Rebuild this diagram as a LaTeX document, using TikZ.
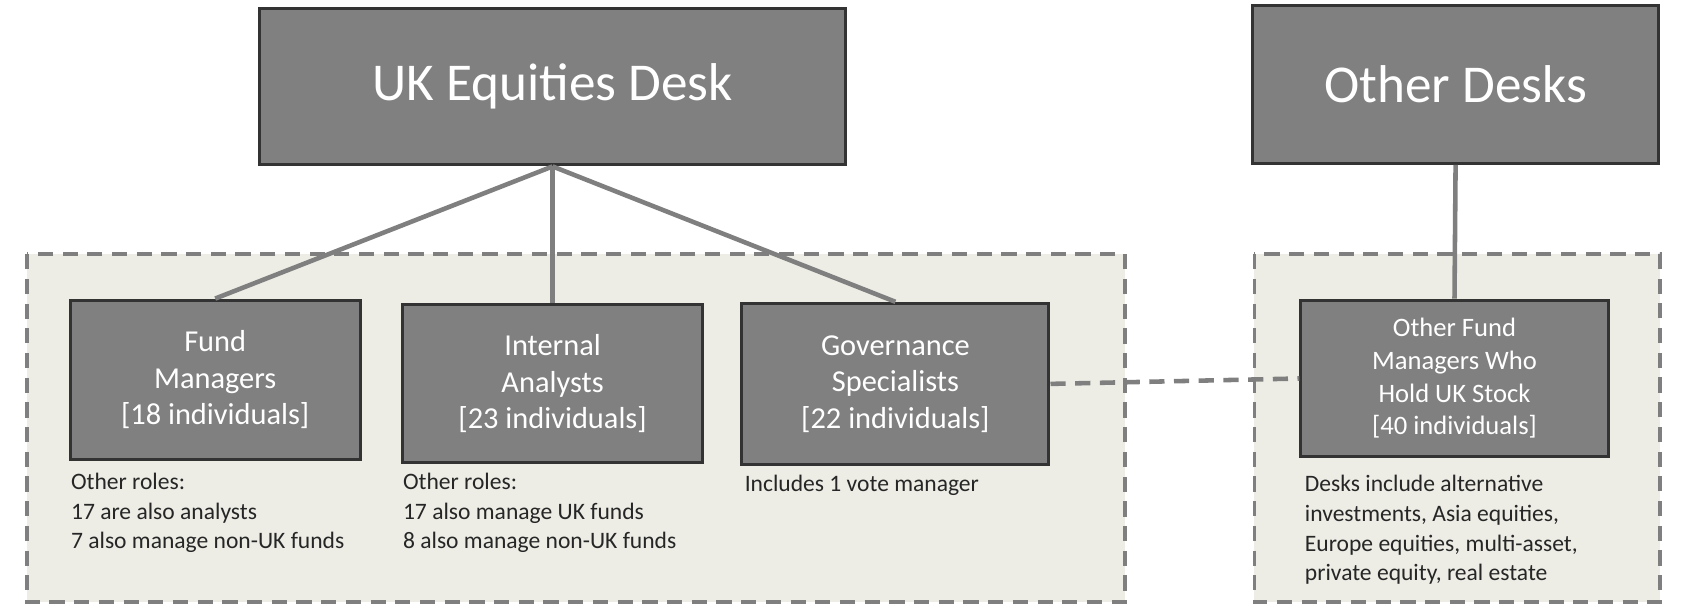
\documentclass[tikz,border=0pt]{standalone}
\usepackage{fontspec}
\setmainfont{Carlito}
\usetikzlibrary{positioning}
\definecolor{boxgray}{HTML}{808080}
\definecolor{edgegray}{HTML}{333333}
\definecolor{linegray}{HTML}{7F7F7F}
\definecolor{areafill}{HTML}{EDEDE6}
\tikzset{
  desk/.style={rectangle,fill=boxgray,draw=edgegray,line width=0.8pt,text=white,font=\fontsize{14}{17}\selectfont,inner sep=0pt},
  role/.style={rectangle,fill=boxgray,draw=edgegray,line width=0.8pt,text=white,align=center,font=\fontsize{8}{9.6}\selectfont,inner sep=0pt},
  note/.style={anchor=north west,align=left,inner sep=0pt,font=\fontsize{6.2}{7.8}\selectfont,text=black!85},
  area/.style={fill=areafill,draw=linegray,dash pattern=on 4pt off 2.5pt,line width=1pt},
  link/.style={draw=linegray,line width=1.2pt}
}
\begin{document}
\begin{tikzpicture}[x=0.1mm,y=-0.1mm]
\useasboundingbox (0,0) rectangle (1560,566);
% dashed regions
\draw[area] (25,235) rectangle (1040,557);
\draw[area] (1160,235) rectangle (1535,557);
% desks
\node[desk,minimum width=54.2mm,minimum height=14.5mm] (uk) at (511,80) {UK Equities Desk};
\node[desk,minimum width=37.5mm,minimum height=14.6mm] (other) at (1346,78) {Other Desks};
% roles
\node[role,minimum width=26.8mm,minimum height=14.7mm] (fund) at (199,351) {Fund\\Managers\\{}[18 individuals]};
\node[role,minimum width=27.8mm,minimum height=14.6mm] (analysts) at (511,355) {Internal\\Analysts\\{}[23 individuals]};
\node[role,minimum width=28.4mm,minimum height=14.9mm] (gov) at (828,355) {Governance\\Specialists\\{}[22 individuals]};
\node[role,minimum width=28.4mm,minimum height=14.5mm,font=\fontsize{7}{8.6}\selectfont] (otherfm) at (1345,350) {Other Fund\\Managers Who\\Hold UK Stock\\{}[40 individuals]};
% connectors
\draw[link] (uk.south) -- (fund.north);
\draw[link] (uk.south) -- (analysts.north);
\draw[link] (uk.south) -- (gov.north);
\draw[link] (other.south) -- (otherfm.north);
\draw[link,dash pattern=on 4pt off 2.5pt] (gov.east) -- (otherfm.west);
% notes
\node[note] (fundnote) at (65,437) {Other roles:\\17 are also analysts\\7 also manage non-UK funds};
\node[note] (analystsnote) at (372,437) {Other roles:\\17 also manage UK funds\\8 also manage non-UK funds};
\node[note] (govnote) at (688,439) {Includes 1 vote manager};
\node[note] (otherfmnote) at (1206,439) {Desks include alternative\\investments, Asia equities,\\Europe equities, multi-asset,\\private equity, real estate};
\end{tikzpicture}
\end{document}
